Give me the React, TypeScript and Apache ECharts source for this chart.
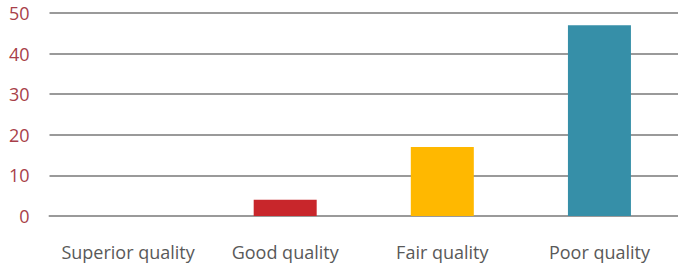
import React, { useEffect, useRef } from "react";
import * as echarts from "echarts";

const categories = ["Superior quality", "Good quality", "Fair quality", "Poor quality"];
const values = [0, 4, 17, 47];
const barColors = ["#C8262B", "#C8262B", "#FFB800", "#368FA8"];
const yTicks = { min: 0, max: 50, interval: 10 };

export default function App() {
  const ref = useRef<HTMLDivElement>(null);
  useEffect(() => {
    const chart = echarts.init(ref.current!, null, { renderer: "svg" });
    chart.setOption({
      animation: false,
      grid: { left: 49.5, right: -5, top: 13, bottom: 54, containLabel: false },
      xAxis: {
        type: "category",
        data: categories,
        axisTick: { show: false },
        axisLine: { show: true, lineStyle: { color: "#9a9a9a", width: 2 } },
        axisLabel: {
          interval: 0,
          color: "#595959",
          fontSize: 18,
          fontFamily: "Open Sans",
          margin: 27,
        },
      },
      yAxis: {
        type: "value",
        min: yTicks.min,
        max: yTicks.max,
        interval: yTicks.interval,
        axisLine: { show: false },
        axisTick: { show: false },
        splitLine: { lineStyle: { color: "#9a9a9a", width: 2 } },
        axisLabel: {
          color: "#A83F4A",
          fontSize: 18,
          fontFamily: "Open Sans",
          margin: 20,
        },
      },
      series: [
        {
          type: "bar",
          barWidth: 63,
          data: values.map((v, i) => ({ value: v, itemStyle: { color: barColors[i] } })),
        },
      ],
    });
    return () => chart.dispose();
  }, []);
  return (
    <div
      ref={ref}
      style={{ position: "fixed", left: 0, top: 0, width: 678, height: 270, background: "#fff" }}
    />
  );
}
